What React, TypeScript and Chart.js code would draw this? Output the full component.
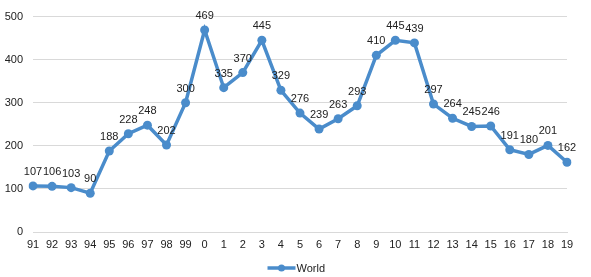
import React, { useEffect, useRef } from "react";
import { Chart, registerables } from "chart.js";

Chart.register(...registerables);

const categories = ["91","92","93","94","95","96","97","98","99","0","1","2","3","4","5","6","7","8","9","10","11","12","13","14","15","16","17","18","19"];
const worldValues = [107,106,103,90,188,228,248,202,300,469,335,370,445,329,276,239,263,293,410,445,439,297,264,245,246,191,180,201,162];
const seriesName = "World";
const lineColor = "#4A8CCB";
const fontFamily = "'Liberation Sans', Arial, sans-serif";

const dataLabelPlugin = {
  id: "dataLabels",
  afterDatasetsDraw(chart: any) {
    const ctx = chart.ctx;
    const meta = chart.getDatasetMeta(0);
    const data = chart.data.datasets[0].data;
    ctx.save();
    ctx.font = `11px ${fontFamily}`;
    ctx.fillStyle = "#222";
    ctx.textAlign = "center";
    ctx.textBaseline = "middle";
    meta.data.forEach((pt: any, i: number) => {
      ctx.fillText(String(data[i]), pt.x, pt.y - 14);
    });
    ctx.restore();
  },
};

const legendPlugin = {
  id: "customLegend",
  afterDraw(chart: any) {
    const ctx = chart.ctx;
    const ds = chart.data.datasets[0];
    const cx = chart.width / 2 - 14;
    const y = 268;
    ctx.save();
    ctx.strokeStyle = ds.borderColor;
    ctx.lineWidth = 3.5;
    ctx.beginPath();
    ctx.moveTo(cx - 14, y);
    ctx.lineTo(cx + 14, y);
    ctx.stroke();
    ctx.fillStyle = ds.borderColor;
    ctx.beginPath();
    ctx.arc(cx, y, 3.5, 0, Math.PI * 2);
    ctx.fill();
    ctx.font = `11px ${fontFamily}`;
    ctx.fillStyle = "#222";
    ctx.textAlign = "left";
    ctx.textBaseline = "middle";
    ctx.fillText(ds.label, cx + 15, y + 1);
    ctx.restore();
  },
};

export default function App() {
  const ref = useRef<HTMLCanvasElement>(null);
  useEffect(() => {
    document.body.style.margin = "0";
    const chart = new Chart(ref.current!, {
      type: "line",
      data: {
        labels: categories,
        datasets: [
          {
            label: seriesName,
            data: worldValues,
            borderColor: lineColor,
            backgroundColor: lineColor,
            borderWidth: 3.5,
            pointRadius: 4.5,
            pointBackgroundColor: lineColor,
            pointBorderWidth: 0,
            tension: 0,
          },
        ],
      },
      options: {
        animation: false,
        responsive: false,
        maintainAspectRatio: false,
        layout: { padding: { left: 0, right: 24, top: 5, bottom: 0 } },
        plugins: { legend: { display: false }, tooltip: { enabled: false } },
        scales: {
          x: {
            offset: false,
            grid: { display: false, drawTicks: false },
            border: { display: true, color: "#d9d9d9", width: 1 },
            ticks: {
              padding: 6,
              color: "#222",
              font: { family: fontFamily, size: 11 },
              maxRotation: 0,
              autoSkip: false,
            },
            afterFit: (s: any) => { s.height = 45; },
          },
          y: {
            min: 0,
            max: 500,
            grid: { color: "#d9d9d9", drawTicks: false },
            border: { display: false },
            ticks: {
              stepSize: 100,
              padding: 10,
              color: "#222",
              font: { family: fontFamily, size: 11 },
            },
            afterFit: (s: any) => { s.width = 33; },
          },
        },
      },
      plugins: [dataLabelPlugin, legendPlugin],
    });
    return () => chart.destroy();
  }, []);
  return (
    <div style={{ position: "absolute", left: 0, top: 0, width: 591, height: 277, background: "#fff" }}>
      <canvas ref={ref} width={591} height={277} />
    </div>
  );
}
